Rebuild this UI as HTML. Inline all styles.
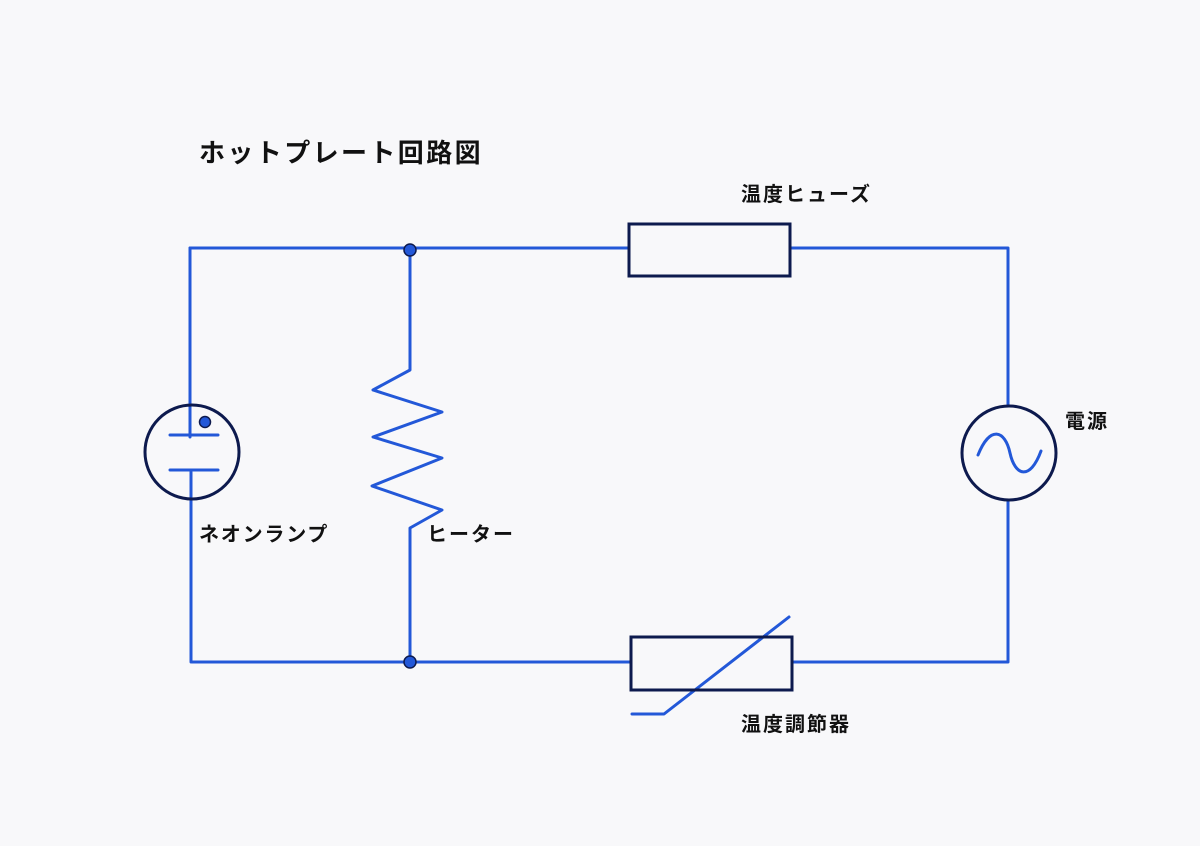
<!DOCTYPE html>
<html><head><meta charset="utf-8"><style>
html,body{margin:0;padding:0;background:#f8f8fa;}
svg text{font-family:"Liberation Sans","Noto Sans CJK JP",sans-serif;font-weight:bold;fill:#111;}
</style></head><body>
<svg width="1200" height="841" viewBox="0 0 1200 841" xmlns="http://www.w3.org/2000/svg">
<rect width="1200" height="841" fill="#f8f8fa"/>
<g stroke="#2358d8" stroke-width="3" fill="none" stroke-linecap="round" stroke-linejoin="round">
<path d="M190 248 H629 M790 248 H1008 V406 M1008 500 V662 H792 M631 662 H192"/>
<path d="M190 248 V437 M170 435 H218 M170 470 H218 M191 472 V662"/>
<path d="M410 248 V370 L373 390 L442 412 L373 437 L442 458 L372 486 L442 510 L410 528 V662"/>
<path d="M632 714 H664 L789 617"/>
<path d="M978 455 C990 425 1005 430 1010 453 C1015 476 1030 481 1041 451"/>
</g>
<g stroke="#0d1a4e" stroke-width="3" fill="none">
<rect x="629" y="224" width="161" height="52"/>
<rect x="631" y="637" width="161" height="53"/>
<circle cx="1009" cy="453" r="47"/>
<circle cx="192" cy="452" r="47"/>
</g>
<g fill="#2358d8" stroke="#0d1a4e" stroke-width="1.5">
<circle cx="205" cy="422" r="5.5"/>
<circle cx="410" cy="250" r="6"/>
<circle cx="410" cy="662" r="6"/>
</g>
<text x="199" y="162" font-size="26" letter-spacing="2.4">ホットプレート回路図</text>
<text x="741" y="201" font-size="20" letter-spacing="2">温度ヒューズ</text>
<text x="1065" y="428" font-size="20" letter-spacing="2">電源</text>
<text x="199" y="541" font-size="20" letter-spacing="1.8">ネオンランプ</text>
<text x="427" y="541" font-size="20" letter-spacing="2">ヒーター</text>
<text x="741" y="731" font-size="20" letter-spacing="2">温度調節器</text>
</svg>
</body></html>
